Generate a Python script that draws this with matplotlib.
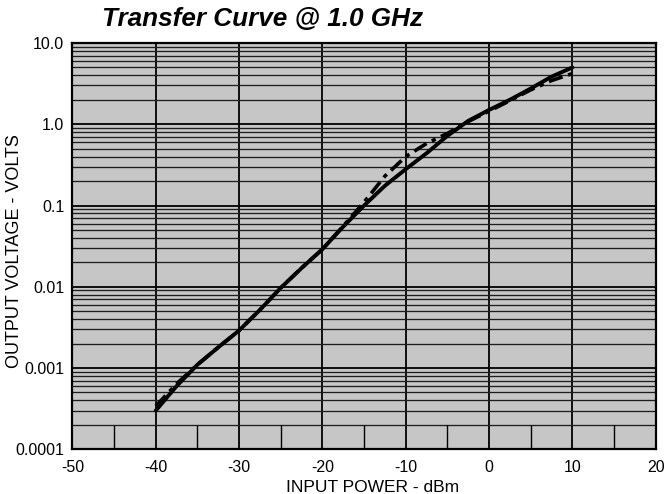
import matplotlib.pyplot as plt
import numpy as np
from matplotlib.ticker import FixedLocator, FixedFormatter, LogLocator, NullFormatter

plt.rcParams['font.family'] = ['Liberation Sans', 'DejaVu Sans']
plt.rcParams['axes.unicode_minus'] = False

# input power (dBm)
power = [-40, -37.5, -35, -32.5, -30, -27.5, -25, -22.5, -20, -17.5, -15,
         -12.5, -10, -7.5, -5, -2.5, 0, 2.5, 5, 7.5, 10]
# output voltage, solid curve
volts_a = [0.0003, 0.0006, 0.0011, 0.0018, 0.0029, 0.0052, 0.0097, 0.017, 0.029,
           0.055, 0.1, 0.175, 0.28, 0.44, 0.72, 1.1, 1.5, 2.0, 2.75, 3.85, 5.0]
# output voltage, dash-dot curve
volts_b = [0.00034, 0.00064, 0.0011, 0.0018, 0.0029, 0.0052, 0.0097, 0.017, 0.029,
           0.056, 0.11, 0.23, 0.4, 0.58, 0.77, 1.08, 1.45, 1.95, 2.65, 3.45, 4.2]

xticks = [-50, -40, -30, -20, -10, 0, 10, 20]
yticks = [0.0001, 0.001, 0.01, 0.1, 1.0, 10.0]
ylabels = ['0.0001', '0.001', '0.01', '0.1', '1.0', '10.0']
strip_x = [-45, -35, -25, -15, -5, 5, 15]

fig = plt.figure(figsize=(6.65, 4.94), dpi=100)
ax = fig.add_axes([0.109, 0.0905, 0.877, 0.8225])
ax.set_facecolor('#c6c6c6')

ax.set_yscale('log')
ax.set_xlim(-50, 20)
ax.set_ylim(0.0001, 10)

ax.xaxis.set_major_locator(FixedLocator(xticks))
ax.yaxis.set_major_locator(FixedLocator(yticks))
ax.yaxis.set_major_formatter(FixedFormatter(ylabels))
ax.yaxis.set_minor_locator(LogLocator(base=10, subs=np.arange(2, 10)))
ax.yaxis.set_minor_formatter(NullFormatter())

ax.grid(True, which='major', axis='both', color='black', linewidth=1.3)
ax.grid(True, which='minor', axis='y', color='#1e1e1e', linewidth=0.95)
ax.set_axisbelow(True)

# short verticals in the bottom strip
ax.vlines(strip_x, 0.0001, 0.0002, colors='black', linewidth=1.0, zorder=1)

ax.plot(power, volts_a, color='black', linewidth=2.8, solid_capstyle='round', zorder=3)
ax.plot(power, volts_b, color='black', linewidth=2.6,
        linestyle=(0, (4, 1.6, 1.2, 1.6)), zorder=3)

ax.tick_params(which='both', length=0, labelsize=11.5, pad=6)
ax.tick_params(axis='x', pad=8)
for s in ax.spines.values():
    s.set_linewidth(1.6)
    s.set_color('black')

ax.set_xlabel('INPUT POWER - dBm', fontsize=12.5)
ax.xaxis.set_label_coords(0.515, -0.075)
ax.set_ylabel('OUTPUT VOLTAGE - VOLTS', fontsize=13, va='center')
ax.yaxis.set_label_coords(-0.1, 0.488)

fig.text(0.153, 0.962, 'Transfer Curve @ 1.0 GHz', fontsize=18.8,
         fontweight='bold', fontstyle='italic', va='center', ha='left')

fig.savefig('out.png', dpi=100)
